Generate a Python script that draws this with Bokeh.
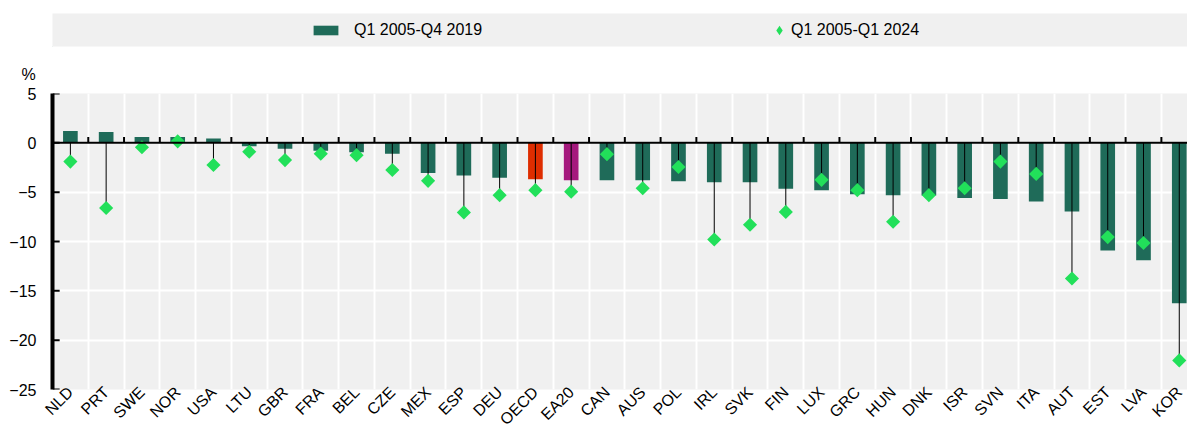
import math
from bokeh.plotting import figure
from bokeh.models import (ColumnDataSource, FixedTicker, Span, Legend,
                          LegendItem, Range1d)
from bokeh.layouts import column
from bokeh.embed import file_html
from bokeh.resources import INLINE

# ---------------- data ----------------
countries = ["NLD", "PRT", "SWE", "NOR", "USA", "LTU", "GBR", "FRA", "BEL", "CZE",
             "MEX", "ESP", "DEU", "OECD", "EA20", "CAN", "AUS", "POL", "IRL", "SVK",
             "FIN", "LUX", "GRC", "HUN", "DNK", "ISR", "SVN", "ITA", "AUT", "EST",
             "LVA", "KOR"]
q2005_q2019 = [1.2, 1.1, 0.6, 0.6, 0.45, -0.35, -0.6, -0.8, -0.95, -1.1,
               -3.05, -3.3, -3.55, -3.7, -3.8, -3.8, -3.8, -3.9, -4.0, -4.0,
               -4.65, -4.8, -5.2, -5.3, -5.35, -5.6, -5.7, -5.95, -6.95, -10.9,
               -11.9, -16.25]
q2005_q2024 = [-1.9, -6.6, -0.45, 0.15, -2.25, -0.9, -1.75, -1.1, -1.25, -2.75,
               -3.85, -7.05, -5.3, -4.8, -4.95, -1.15, -4.6, -2.45, -9.8, -8.3,
               -7.0, -3.75, -4.8, -8.0, -5.3, -4.6, -1.9, -3.15, -13.75, -9.55,
               -10.15, -22.05]
y_ticks = [-25, -20, -15, -10, -5, 0, 5]
series_labels = ["Q1 2005-Q4 2019", "Q1 2005-Q1 2024"]
unit_label = "%"

# ---------------- style ----------------
FONT = "Liberation Sans"
FS = "16px"
BAR = "#1f6b59"
OECD_C = "#de2d00"
EA_C = "#a5187d"
DIAM = "#22e05a"
BG = "#f0f0f0"
W = 1187

n = len(countries)
idx = list(range(n))
bar_colors = [OECD_C if c == "OECD" else EA_C if c == "EA20" else BAR for c in countries]
src = ColumnDataSource(dict(x=idx, q2019=q2005_q2019, q2024=q2005_q2024,
                            zero=[0] * n, color=bar_colors))

# ---------------- main chart ----------------
p = figure(width=W, height=384, output_backend="svg", toolbar_location=None,
           x_range=Range1d(-0.5, 31.23), y_range=Range1d(-25, 5),
           min_border_left=49, min_border_right=0, min_border_top=39,
           min_border_bottom=40, background_fill_color=BG,
           border_fill_color="white", outline_line_color=None,
           title=unit_label)
p.title.text_font = FONT
p.title.text_font_size = FS
p.title.text_font_style = "normal"
p.title.text_color = "black"
p.title.align = "left"
p.title.offset = -31
p.title.standoff = 21

p.xgrid.ticker = FixedTicker(ticks=[i + 0.5 for i in idx])
p.xgrid.grid_line_color = "white"
p.xgrid.grid_line_width = 2
p.ygrid.ticker = FixedTicker(ticks=y_ticks)
p.ygrid.grid_line_color = "white"
p.ygrid.grid_line_width = 2

p.yaxis.ticker = FixedTicker(ticks=y_ticks)
p.yaxis.axis_line_color = "black"
p.yaxis.axis_line_width = 4
p.yaxis.major_tick_in = 0
p.yaxis.major_tick_out = 0
p.yaxis.major_tick_line_color = None
p.yaxis.minor_tick_line_color = None
p.yaxis.major_label_text_font = FONT
p.yaxis.major_label_text_font_size = FS
p.yaxis.major_label_text_color = "black"
p.yaxis.major_label_standoff = 16

p.xaxis.ticker = FixedTicker(ticks=idx)
p.xaxis.major_label_overrides = {i: c for i, c in enumerate(countries)}
p.xaxis.axis_line_color = None
p.xaxis.major_tick_line_color = None
p.xaxis.major_tick_in = 0
p.xaxis.major_tick_out = 0
p.xaxis.minor_tick_line_color = None
p.xaxis.major_label_orientation = math.pi / 4
p.xaxis.major_label_text_font = FONT
p.xaxis.major_label_text_font_size = FS
p.xaxis.major_label_text_color = "black"
p.xaxis.major_label_standoff = 0

p.vbar(x="x", top="q2019", bottom=0, width=0.41, fill_color="color",
       line_color=None, source=src)
p.add_layout(Span(location=0, dimension="width", line_color="black", line_width=2))
# category ticks standing on the zero line
tick_src = ColumnDataSource(dict(x=[i + 0.5 for i in idx], y0=[0] * n, y1=[0.6] * n))
p.segment(x0="x", y0="y0", x1="x", y1="y1", line_color="black", line_width=2,
          source=tick_src)
# inward value ticks on the left axis
x0 = p.x_range.start
ytick_src = ColumnDataSource(dict(x0=[x0] * len(y_ticks), x1=[x0 + 0.2] * len(y_ticks),
                                  y=y_ticks))
p.segment(x0="x0", y0="y", x1="x1", y1="y", line_color="black", line_width=2,
          source=ytick_src)
p.segment(x0="x", y0="zero", x1="x", y1="q2024", line_color="black",
          line_width=1, source=src)
p.scatter(x="x", y="q2024", marker="square", angle=math.pi / 4, size=10,
          fill_color=DIAM, line_color=None, source=src)

# ---------------- legend band ----------------
lg = figure(width=W, height=53, output_backend="svg", toolbar_location=None,
            x_range=Range1d(0, 1), y_range=Range1d(0, 1),
            x_axis_location=None, y_axis_location=None,
            min_border_left=52, min_border_right=0, min_border_top=13,
            min_border_bottom=7, background_fill_color=BG,
            border_fill_color="white", outline_line_color=None)
lg.grid.visible = False
r1 = lg.vbar(x=[-5], top=[-5], bottom=[-6], width=0.4, fill_color=BAR, line_color=None)
r2 = lg.scatter(x=[-5], y=[-5], marker="diamond", size=10,
                fill_color=DIAM, line_color=None)

leg1 = Legend(items=[LegendItem(label=series_labels[0], renderers=[r1])],
              location=(258, 7), glyph_width=31, glyph_height=12,
              label_standoff=13, padding=0, margin=0,
              background_fill_alpha=0, border_line_color=None,
              label_text_font=FONT, label_text_font_size=FS,
              label_text_color="black")
leg2 = Legend(items=[LegendItem(label=series_labels[1], renderers=[r2])],
              location=(715, 1), glyph_width=24, glyph_height=30,
              label_standoff=0, padding=0, margin=0,
              background_fill_alpha=0, border_line_color=None,
              label_text_font=FONT, label_text_font_size=FS,
              label_text_color="black")
lg.add_layout(leg1)
lg.add_layout(leg2)

layout = column(lg, p)
open("out.html", "w").write(file_html(layout, INLINE))
